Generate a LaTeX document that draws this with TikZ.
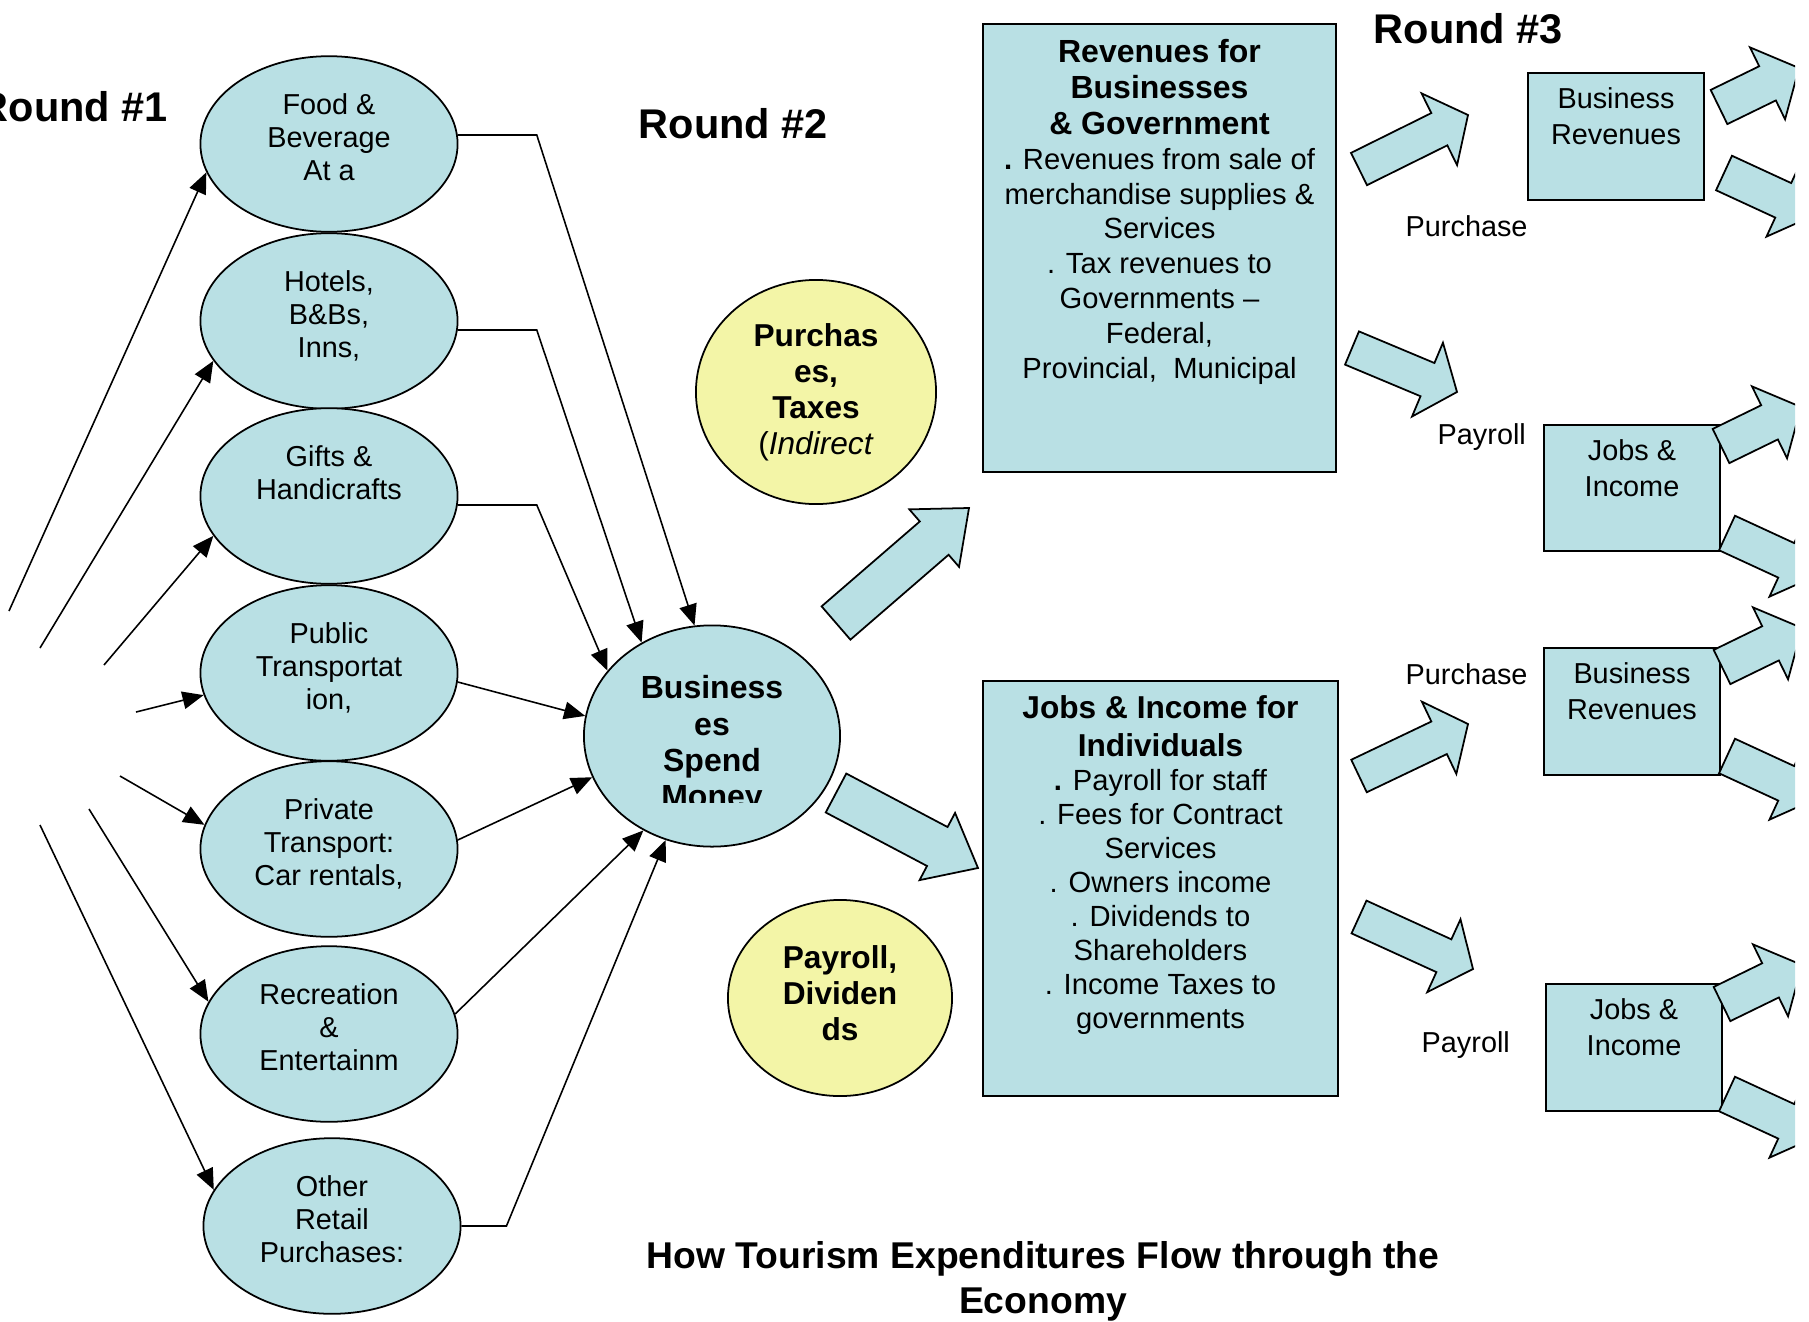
\documentclass[tikz,border=0pt]{standalone}
\usepackage{fontspec}
\setmainfont{Liberation Sans}
\usetikzlibrary{shapes.geometric,arrows.meta,calc}

\definecolor{paleblue}{RGB}{185,224,228}
\definecolor{paleyellow}{RGB}{243,245,167}

% fat block arrow: tail, tip, half shaft, half head, head length
\newcommand{\fatarrow}[5]{%
  \coordinate (hb) at ($(#2)!#5!(#1)$);
  \draw[fat] ($(#1)!#3!90:(#2)$) -- ($(hb)!#3!90:(#2)$) -- ($(hb)!#4!90:(#2)$) -- (#2)
    -- ($(hb)!#4!-90:(#2)$) -- ($(hb)!#3!-90:(#2)$) -- ($(#1)!#3!-90:(#2)$) -- cycle;}

\begin{document}
\begin{tikzpicture}
  [x=0.01cm, y=-0.01cm,
   spot/.style={ellipse, draw, fill=paleblue, line width=0.5pt, inner sep=0pt,
     minimum width=2.57cm, minimum height=1.755cm, align=center,
     font=\fontsize{8.2}{9.4}\selectfont},
   hub/.style={ellipse, draw, fill=paleblue, line width=0.5pt, inner sep=0pt,
     minimum width=2.56cm, minimum height=2.08cm, align=center,
     font=\fontsize{9.1}{10.3}\selectfont\bfseries},
   extra/.style={ellipse, draw, fill=paleyellow, line width=0.5pt, inner sep=0pt,
     align=center, font=\fontsize{9.0}{10.2}\selectfont\bfseries},
   panel/.style={rectangle, draw, fill=paleblue, line width=0.5pt, inner xsep=0.05cm, inner ysep=0.15cm},
   tile/.style={rectangle, draw, fill=paleblue, line width=0.5pt, inner xsep=0.03cm, inner ysep=0.15cm,
     font=\fontsize{8.2}{10.2}\selectfont},
   heading/.style={anchor=base west, inner sep=0pt, font=\fontsize{11.8}{14}\selectfont\bfseries},
   tag/.style={anchor=base west, inner sep=0pt, font=\fontsize{8.2}{9.4}\selectfont},
   flow/.style={-{Triangle[length=6pt,width=5pt]}, line width=0.45pt},
   fat/.style={draw, fill=paleblue, line width=0.5pt, line join=miter}]

  \useasboundingbox (0,0) rectangle (1809,1321);

  % Round 1: where tourists spend
  \node[spot] (food) at (329,144) {Food \&\\Beverage\\At a\rule[-4pt]{0pt}{0pt}};
  \node[spot] (hotel) at (329,321) {Hotels,\\B\&Bs,\\Inns,\rule[-4pt]{0pt}{0pt}};
  \node[spot] (gift) at (329,496) {Gifts \&\\Handicrafts\\\rule[-4pt]{0pt}{0pt}};
  \node[spot] (pubtr) at (329,673) {Public\\Transportat\\ion,\rule[-4pt]{0pt}{0pt}};
  \node[spot] (privtr) at (329,849) {Private\\Transport:\\Car rentals,\rule[-4pt]{0pt}{0pt}};
  \node[spot] (recr) at (329,1034) {Recreation\\\&\\Entertainm\rule[-4pt]{0pt}{0pt}};
  \node[spot] (other) at (332,1226) {Other\\Retail\\Purchases:\rule[-4pt]{0pt}{0pt}};

  % Round 2
  \node[hub] (spend) at (712,736) {\rule{0pt}{11.7pt}Business\\es\\Spend\\\phantom{Money}};
  \begin{scope}
    \clip (600,700) rectangle (830,802);
    \node[hub, draw=none, fill=none] (money) at (spend)
      {\rule{0pt}{11.7pt}\phantom{Business}\\\phantom{es}\\\phantom{Spend}\\Money};
  \end{scope}
  \node[extra, minimum width=2.40cm, minimum height=2.24cm] (buytax) at (816,392)
    {Purchas\\es,\\Taxes\\{\normalfont(\textit{Indirect}}};
  \node[extra, minimum width=2.24cm, minimum height=1.96cm] (paydiv) at (840,998)
    {Payroll,\\Dividen\\ds\rule[-3pt]{0pt}{0pt}};

  \node[panel] (revbox) at (1159.5,248) {\parbox[c][4.18cm][t]{3.43cm}{\centering
    {\fontsize{9.1}{10.3}\selectfont\bfseries Revenues for\\Businesses\\\& Government\par}
    {\fontsize{8.3}{9.9}\selectfont\textbf{.} Revenues from sale of\\merchandise supplies \&\\Services\\. Tax revenues to\\Governments –\\Federal,\\Provincial,\ \ Municipal\par}}};
  \node[panel] (jobbox) at (1160.5,888.5) {\parbox[c][3.85cm][t]{3.45cm}{\centering
    {\fontsize{9.0}{10.8}\selectfont\bfseries Jobs \& Income for\\Individuals\par}
    {\fontsize{8.3}{9.65}\selectfont\textbf{.} Payroll for staff\\. Fees for Contract\\Services\\. Owners income\\. Dividends to\\Shareholders\\. Income Taxes to\\governments\par}}};

  % Round 3
  \node[tile] (bizrev1) at (1616,136.5) {\parbox[c][0.97cm][t]{1.70cm}{\centering Business\\Revenues}};
  \node[tile] (jobinc1) at (1632,488) {\parbox[c][0.96cm][t]{1.70cm}{\centering Jobs \&\\Income}};
  \node[tile] (bizrev2) at (1632,711.5) {\parbox[c][0.97cm][t]{1.70cm}{\centering Business\\Revenues}};
  \node[tile] (jobinc2) at (1634,1047.5) {\parbox[c][0.97cm][t]{1.70cm}{\centering Jobs \&\\Income}};

  % Labels
  \node[heading] (r1) at (-22,121) {Round \#1};
  \node[heading] (r2) at (638,138) {Round \#2};
  \node[heading] (r3) at (1373,43) {Round \#3};
  \node[tag] (buy1) at (1405,236) {Purchase};
  \node[tag] (pay1) at (1437,444) {Payroll};
  \node[tag] (buy2) at (1405,684) {Purchase};
  \node[tag] (pay2) at (1421,1052) {Payroll};
  \node[inner sep=0pt, align=center, font=\fontsize{10.6}{12.8}\selectfont\bfseries] (caption)
    at (1043,1281) {How Tourism Expenditures Flow through the\\Economy};

  % Tourist spending coming in
  \coordinate (in1) at (9,611);
  \coordinate (in2) at (40,648);
  \coordinate (in3) at (104,665);
  \coordinate (in4) at (136,712);
  \coordinate (in5) at (120,776);
  \coordinate (in6) at (89,809);
  \coordinate (in7) at (40,825);
  \draw[flow] (in1) -- (food.193);
  \draw[flow] (in2) -- (hotel.199);
  \draw[flow] (in3) -- (gift.199);
  \draw[flow] (in4) -- (pubtr.190);
  \draw[flow] (in5) -- (privtr.169);
  \draw[flow] (in6) -- (recr.165);
  \draw[flow] (in7) -- (other.163);

  % Round 1 to Round 2
  \draw[flow] (food.4) -- ++(79,0) -- (spend.99);
  \draw[flow] (hotel.-4) -- ++(79,0) -- (spend.127);
  \draw[flow] (gift.-4) -- ++(79,0) -- (spend.148);
  \draw[flow] (pubtr.-4) -- (spend.171);
  \draw[flow] (privtr.4) -- (spend.199);
  \draw[flow] (recr.9) -- (spend.234);
  \draw[flow] (other.east) -- ++(45,0) -- (spend.246);

  % Block arrows
  \coordinate (a1s) at (836,623); \coordinate (a1e) at (969,508);
  \coordinate (a2s) at (836,793); \coordinate (a2e) at (978,868);
  \fatarrow{a1s}{a1e}{0.22cm}{0.38cm}{0.46cm}
  \fatarrow{a2s}{a2e}{0.22cm}{0.38cm}{0.46cm}

  \coordinate (b1s) at (1359,169); \coordinate (b1e) at (1468,115);
  \coordinate (b2s) at (1352,348); \coordinate (b2e) at (1457,392);
  \coordinate (b3s) at (1359,776); \coordinate (b3e) at (1468,724);
  \coordinate (b4s) at (1359,917); \coordinate (b4e) at (1473,969);
  \fatarrow{b1s}{b1e}{0.18cm}{0.40cm}{0.32cm}
  \fatarrow{b2s}{b2e}{0.18cm}{0.40cm}{0.32cm}
  \fatarrow{b3s}{b3e}{0.18cm}{0.40cm}{0.32cm}
  \fatarrow{b4s}{b4e}{0.18cm}{0.40cm}{0.32cm}

  % Arrows leaving Round 3 (cut at the right edge)
  \begin{scope}
    \clip (0,0) rectangle (1795,1321);
    \coordinate (c1s) at (1719,107); \coordinate (c1e) at (1799,68);
    \coordinate (c2s) at (1724,173); \coordinate (c2e) at (1815,215);
    \coordinate (c3s) at (1721,446); \coordinate (c3e) at (1801,407);
    \coordinate (c4s) at (1727,533); \coordinate (c4e) at (1818,575);
    \coordinate (c5s) at (1722,667); \coordinate (c5e) at (1802,628);
    \coordinate (c6s) at (1727,756); \coordinate (c6e) at (1818,798);
    \coordinate (c7s) at (1722,1004); \coordinate (c7e) at (1802,965);
    \coordinate (c8s) at (1727,1094); \coordinate (c8e) at (1818,1136);
    \foreach \k in {1,...,8}
      {\fatarrow{c\k s}{c\k e}{0.19cm}{0.40cm}{0.35cm}}
  \end{scope}

\end{tikzpicture}
\end{document}
